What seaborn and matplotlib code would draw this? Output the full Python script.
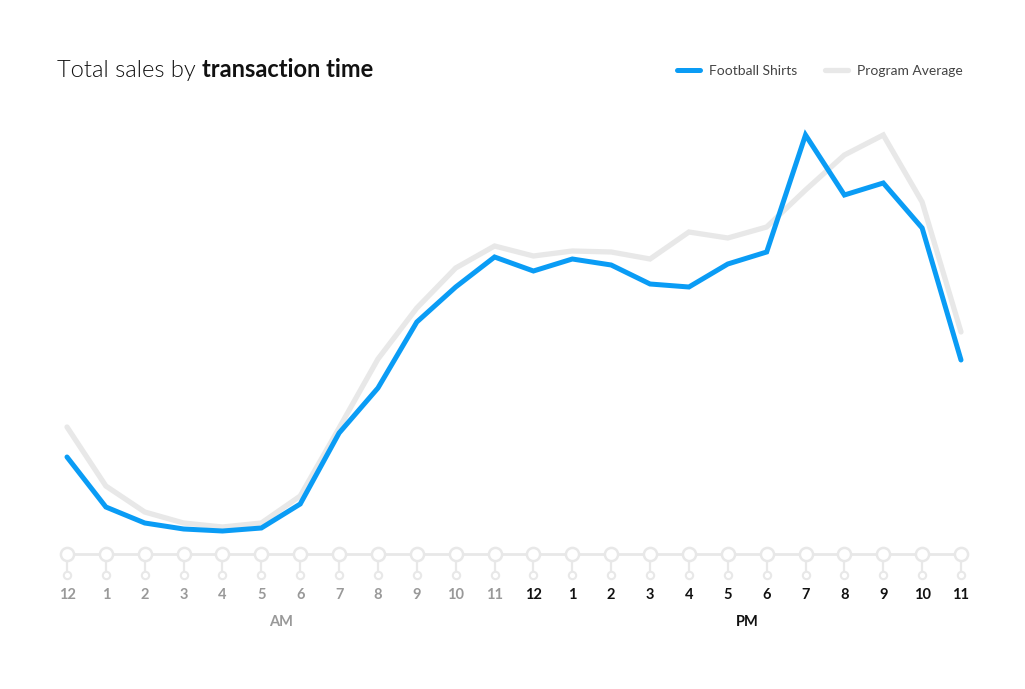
import seaborn as sns
import matplotlib.pyplot as plt
import pandas as pd
import numpy as np

hours = list(range(24))
hour_labels = ['12', '1', '2', '3', '4', '5', '6', '7', '8', '9', '10', '11',
               '12', '1', '2', '3', '4', '5', '6', '7', '8', '9', '10', '11']
football_shirts = [97, 47, 31, 25, 23, 26, 50, 121, 166, 232, 267, 297,
                   283, 295, 289, 270, 267, 290, 302, 419, 359, 371, 326, 194]
program_average = [127, 68, 42, 31, 27, 31, 58, 126, 195, 246, 286, 308,
                   298, 303, 302, 295, 322, 316, 327, 364, 399, 419, 352, 222]

BLUE = '#0a9cf5'
GRAY = '#e8e8e8'

sns.set_style('white')
plt.rcParams['font.family'] = ['Lato', 'DejaVu Sans']

df = pd.DataFrame({'hour': hours, 'Football Shirts': football_shirts,
                   'Program Average': program_average})

fig = plt.figure(figsize=(10.25, 6.89), dpi=100)
ax = fig.add_axes([67 / 1025, 135 / 689, 894 / 1025, 434 / 689])

sns.lineplot(data=df, x='hour', y='Program Average', color=GRAY, lw=3.8,
             label='Program Average', ax=ax, clip_on=False,
             solid_capstyle='round', solid_joinstyle='miter')
sns.lineplot(data=df, x='hour', y='Football Shirts', color=BLUE, lw=3.6,
             label='Football Shirts', ax=ax, clip_on=False,
             solid_capstyle='round', solid_joinstyle='miter')

ax.set_xlim(0, 23)
ax.set_ylim(0, 434)
ax.axis('off')

# custom time axis
ax.plot([0, 23], [0, 0], color=GRAY, lw=2, clip_on=False, zorder=1)
for h in hours:
    ax.plot([h, h], [0, -21], color=GRAY, lw=1.6, clip_on=False, zorder=1)
ax.scatter(hours, [0] * 24, s=90, facecolor='white', edgecolor=GRAY,
           linewidth=1.8, clip_on=False, zorder=3)
ax.scatter(hours, [-21] * 24, s=28, facecolor='white', edgecolor=GRAY,
           linewidth=1.5, clip_on=False, zorder=3)
for h, lab in zip(hours, hour_labels):
    ax.text(h, -41, lab, ha='center', va='center', fontsize=10.5,
            fontweight='bold', color='#999999' if h < 12 else '#111111')
ax.text(5.5, -68, 'AM', ha='center', va='center', fontsize=10.5,
        fontweight='bold', color='#999999')
ax.text(17.5, -68, 'PM', ha='center', va='center', fontsize=10.5,
        fontweight='bold', color='#111111')

# title in two weights
t1 = fig.text(57 / 1025, 1 - 77 / 689, 'Total sales by ', fontsize=17,
              fontweight=300, color='#111111', va='baseline')
fig.canvas.draw()
bb = t1.get_window_extent()
fig.text(bb.x1 / 1025, 1 - 77 / 689, 'transaction time', fontsize=17,
         fontweight='bold', color='#111111', va='baseline')

handles, labels = ax.get_legend_handles_labels()
leg = ax.legend(handles[::-1], labels[::-1], ncol=2, frameon=False,
                loc='center right', bbox_to_anchor=(975 / 1025, 1 - 71 / 689),
                bbox_transform=fig.transFigure, fontsize=10,
                handlelength=1.7, handletextpad=0.6, columnspacing=2.0)
for t in leg.get_texts():
    t.set_color('#444444')

fig.savefig('out.png', dpi=100, facecolor='white')
